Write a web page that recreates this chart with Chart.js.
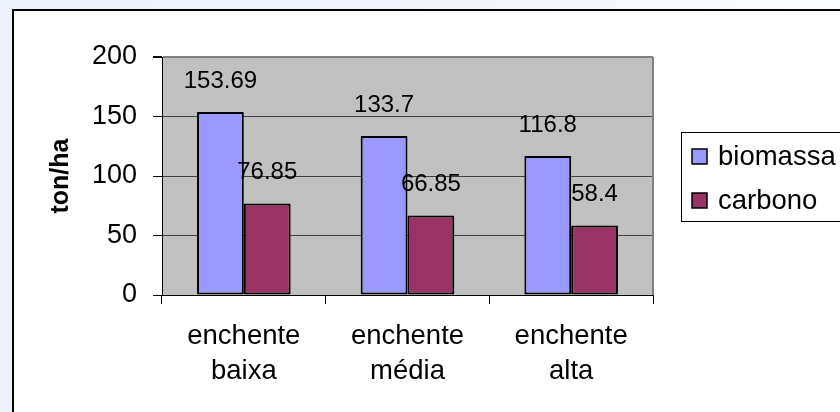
<!DOCTYPE html>
<html>
<head>
<meta charset="utf-8">
<script src="https://cdn.jsdelivr.net/npm/chart.js@4.4.1/dist/chart.umd.min.js"></script>
<style>
    html, body {
        margin: 0;
        padding: 0;
        width: 840px;
        height: 412px;
        overflow: hidden;
        background: linear-gradient(90deg, #ecf1fb 0%, #f3f6fd 60%, #f9fbfe 100%);
        font-family: "Liberation Sans", Arial, sans-serif;
    }
    .frame {
        position: absolute;
        left: 12px;
        top: 9px;
        width: 900px;
        height: 500px;
        background: #ffffff;
        border-left: 2px solid #000;
        border-top: 2px solid #000;
    }
    #chart {
        position: absolute;
        left: 0;
        top: 0;
    }
</style>
</head>
<body>
<div class="frame"></div>
<canvas id="chart" width="840" height="412"></canvas>
<script>
const categories = [["enchente", "baixa"], ["enchente", "média"], ["enchente", "alta"]];
const seriesNames = ["biomassa", "carbono"];
const biomassaValues = [153.69, 133.7, 116.8];
const carbonoValues = [76.85, 66.85, 58.4];
const yTicks = [0, 50, 100, 150, 200];

const colors = ["#9999ff", "#993366"];
const FONT = "'Liberation Sans', Arial, sans-serif";

const plotBackground = {
    id: "plotBackground",
    beforeDraw(chart) {
        const { ctx, chartArea: a } = chart;
        ctx.save();
        ctx.fillStyle = "#c0c0c0";
        ctx.fillRect(a.left, a.top, a.right - a.left, a.bottom - a.top);
        ctx.restore();
    },
    afterDraw(chart) {
        const { ctx, chartArea: a } = chart;
        ctx.save();
        ctx.strokeStyle = "#808080";
        ctx.lineWidth = 2;
        ctx.beginPath();
        ctx.moveTo(a.right, a.top);
        ctx.lineTo(a.right, a.bottom);
        ctx.stroke();
        ctx.restore();
    }
};

const valueLabels = {
    id: "valueLabels",
    afterDatasetsDraw(chart) {
        const { ctx } = chart;
        ctx.save();
        ctx.font = "24px " + FONT;
        ctx.fillStyle = "#000";
        ctx.textAlign = "center";
        ctx.textBaseline = "middle";
        chart.data.datasets.forEach((ds, i) => {
            chart.getDatasetMeta(i).data.forEach((bar, j) => {
                ctx.fillText(String(ds.data[j]), bar.x, bar.y - 31);
            });
        });
        ctx.restore();
    }
};

const boxLegend = {
    id: "boxLegend",
    afterDraw(chart) {
        const { ctx } = chart;
        ctx.save();
        ctx.fillStyle = "#fff";
        ctx.fillRect(681, 132, 200, 90);
        ctx.strokeStyle = "#000";
        ctx.lineWidth = 1;
        ctx.strokeRect(681.5, 132.5, 200, 89);
        ctx.font = "27.5px " + FONT;
        ctx.textBaseline = "middle";
        ctx.textAlign = "left";
        chart.data.datasets.forEach((ds, i) => {
            const cy = 156 + i * 44;
            ctx.fillStyle = ds.backgroundColor;
            ctx.fillRect(692, cy - 7, 15, 15);
            ctx.strokeStyle = "#000";
            ctx.lineWidth = 1.5;
            ctx.strokeRect(692, cy - 7, 15, 15);
            ctx.fillStyle = "#000";
            ctx.fillText(ds.label, 718, cy + 1);
        });
        ctx.restore();
    }
};

new Chart(document.getElementById("chart"), {
    type: "bar",
    data: {
        labels: categories,
        datasets: [
            {
                label: seriesNames[0],
                data: biomassaValues,
                backgroundColor: colors[0],
                borderColor: "#000",
                borderWidth: 2,
                borderSkipped: false
            },
            {
                label: seriesNames[1],
                data: carbonoValues,
                backgroundColor: colors[1],
                borderColor: "#000",
                borderWidth: 2,
                borderSkipped: false
            }
        ]
    },
    options: {
        responsive: false,
        animation: false,
        categoryPercentage: 0.572,
        barPercentage: 1,
        layout: {
            padding: { top: 57, right: 187, bottom: 0, left: 0 }
        },
        plugins: {
            legend: { display: false },
            tooltip: { enabled: false }
        },
        scales: {
            x: {
                afterFit(scale) { scale.height = 117; },
                grid: {
                    offset: true,
                    drawOnChartArea: false,
                    tickLength: 9,
                    tickColor: "#000"
                },
                border: { color: "#000", width: 1 },
                ticks: {
                    color: "#000",
                    padding: 15,
                    maxRotation: 0,
                    font: { family: FONT, size: 27.5, lineHeight: 1.27 }
                }
            },
            y: {
                min: 0,
                max: 200,
                afterFit(scale) { scale.width = 162; },
                afterBuildTicks(scale) {
                    scale.ticks = yTicks.map(v => ({ value: v }));
                },
                grid: {
                    color: ctx => ctx.tick && ctx.tick.value === 200 ? "#808080" : "#404040",
                    lineWidth: ctx => ctx.tick && ctx.tick.value === 200 ? 2 : 1,
                    tickLength: 9,
                    tickColor: "#000"
                },
                border: { color: "#000", width: 1 },
                ticks: {
                    color: "#000",
                    padding: 16,
                    font: { family: FONT, size: 27 }
                },
                title: {
                    display: true,
                    text: "ton/ha",
                    color: "#000",
                    padding: { top: 46 },
                    font: { family: FONT, size: 25, weight: "bold" }
                }
            }
        }
    },
    plugins: [plotBackground, valueLabels, boxLegend]
});
</script>
</body>
</html>
